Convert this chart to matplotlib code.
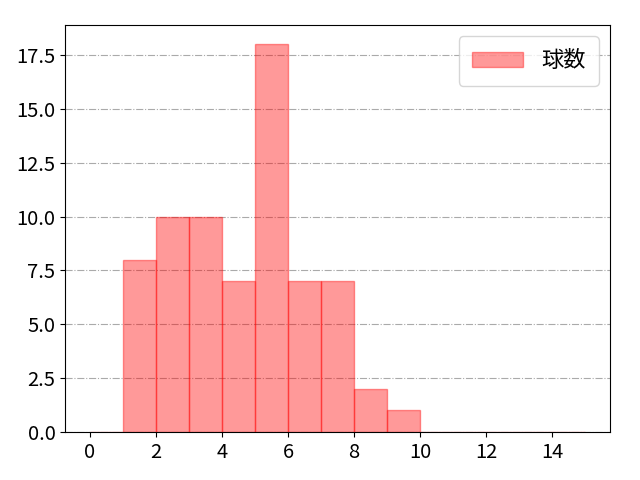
import matplotlib
matplotlib.use("Agg")
import matplotlib.pyplot as plt
import numpy as np

plt.rcParams['font.family'] = ['Noto Sans CJK JP', 'DejaVu Sans']

bin_edges = list(range(0, 16))
bin_left = bin_edges[:-1]
counts = [0, 8, 10, 10, 7, 18, 7, 7, 2, 1, 0, 0, 0, 0, 0]
label = "球数"

fig = plt.figure(figsize=(6.4, 4.8), dpi=100)
ax = fig.add_axes([0.102, 0.1, 0.851, 0.848])
ax.hist(bin_left, bins=bin_edges, weights=counts, color='red', alpha=0.4,
        edgecolor='red', linewidth=1, label=label)
ax.set_xlim(-0.75, 15.75)
ax.set_xticks([0, 2, 4, 6, 8, 10, 12, 14])
ax.set_yticks(np.arange(0, 18.0, 2.5))
ax.grid(axis='y', linestyle='-.', color='#aaaaaa', linewidth=0.8)
ax.set_axisbelow(True)
ax.tick_params(labelsize=14.5)
ax.legend(loc='upper right', fontsize=16, handlelength=2.3, borderpad=0.6)
fig.savefig('out.png', dpi=100)
